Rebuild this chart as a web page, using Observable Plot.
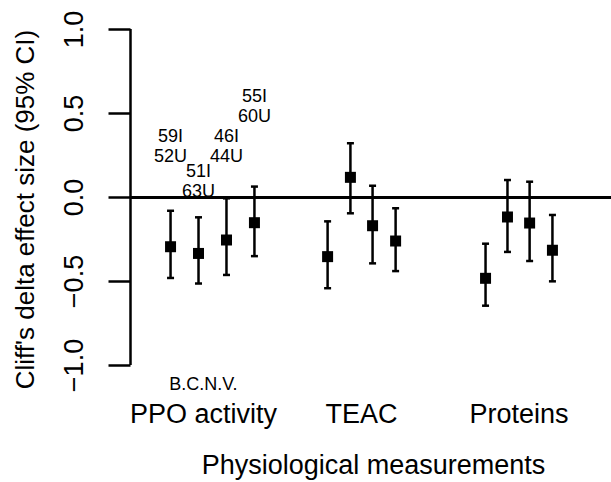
<!DOCTYPE html>
<html>
<head>
<meta charset="utf-8">
<script src="https://cdn.jsdelivr.net/npm/d3@7"></script>
<script src="https://cdn.jsdelivr.net/npm/@observablehq/plot@0.6"></script>
<style>
  html, body { margin: 0; padding: 0; background: #fff; }
  #chart svg { display: block; }
</style>
</head>
<body>
<div id="chart"></div>
<script>
// Positions of the 12 estimates along the x axis (arbitrary units)
const pos = [1.79, 3.04, 4.29, 5.54, 8.81, 9.83, 10.82, 11.85, 15.87, 16.85, 17.84, 18.86];
// Cliff's delta estimates and 95% CI
const est = [-0.293, -0.333, -0.253, -0.150, -0.352, 0.120, -0.168, -0.259, -0.481, -0.116, -0.152, -0.314];
const lo  = [-0.479, -0.512, -0.461, -0.349, -0.540, -0.094, -0.392, -0.438, -0.644, -0.324, -0.378, -0.499];
const hi  = [-0.079, -0.118, -0.005, 0.065, -0.142, 0.323, 0.070, -0.064, -0.275, 0.104, 0.094, -0.104];

// Sample size annotations above PPO activity
const annPos = [1.79, 3.04, 4.29, 5.54];
const annY = [0.307, 0.098, 0.307, 0.548];
const annText = ["59I\n52U", "51I\n63U", "46I\n44U", "55I\n60U"];

// Group labels
const groups = ["PPO activity", "TEAC", "Proteins"];
const groupPos = [3.26, 10.33, 17.37];
const subLabel = "B.C.N.V.";
const subPos = 3.26;

const yTicks = [-1, -0.5, 0, 0.5, 1];
const yTitle = "Cliff's delta effect size (95% CI)";
const xTitle = "Physiological measurements";
const xTitlePos = 10.86;

const data = pos.map((x, i) => ({x, est: est[i], lo: lo[i], hi: hi[i]}));
const ann = annPos.map((x, i) => ({x, y: annY[i], text: annText[i]}));
const grp = groups.map((g, i) => ({x: groupPos[i], text: g}));

const fmt = d3.format(".1f");
const font = "'Liberation Sans', Arial, Helvetica, sans-serif";

const capSymbol = {draw(ctx) { ctx.moveTo(-3.5, 0); ctx.lineTo(3.5, 0); }};
const squareSymbol = {draw(ctx) { ctx.rect(-5.5, -5.5, 11, 11); }};
const tickSymbol = {draw(ctx) { ctx.moveTo(-22, 0); ctx.lineTo(0, 0); }};

const chart = Plot.plot({
  width: 611,
  height: 482,
  marginLeft: 130,
  marginRight: 0,
  marginTop: 29,
  marginBottom: 117,
  style: {fontFamily: font, background: "#fff", color: "#000", overflow: "visible"},
  x: {domain: [0, 21.5], axis: null},
  y: {domain: [-1, 1], axis: null},
  marks: [
    // y axis line
    Plot.ruleX([0], {y1: -1, y2: 1, stroke: "#000", strokeWidth: 2.5}),
    // y ticks
    Plot.dot(yTicks, {x: () => 0, y: d => d, symbol: tickSymbol, stroke: "#000", fill: "none", strokeWidth: 2.5}),
    // y tick labels
    Plot.text(yTicks, {x: () => 0, y: d => d, text: d => fmt(d), rotate: -90, dx: -56, fontSize: 27, fill: "#000"}),
    // y title
    Plot.text([yTitle], {x: () => 0, y: () => 0, text: d => d, rotate: -90, dx: -105, dy: 12, fontSize: 26, fill: "#000"}),
    // zero line
    Plot.ruleY([0], {stroke: "#000", strokeWidth: 3}),
    // error bars
    Plot.ruleX(data, {x: "x", y1: "lo", y2: "hi", stroke: "#000", strokeWidth: 2.5}),
    Plot.dot(data, {x: "x", y: "lo", symbol: capSymbol, stroke: "#000", fill: "none", strokeWidth: 2.5}),
    Plot.dot(data, {x: "x", y: "hi", symbol: capSymbol, stroke: "#000", fill: "none", strokeWidth: 2.5}),
    // estimates
    Plot.dot(data, {x: "x", y: "est", symbol: squareSymbol, fill: "#000", stroke: "none"}),
    // annotations
    Plot.text(ann, {x: "x", y: "y", text: "text", fontSize: 18, lineHeight: 1.1, fill: "#000"}),
    // group labels
    Plot.text(grp, {x: "x", y: () => -1, text: "text", dy: 49, fontSize: 27, fill: "#000"}),
    Plot.text([subLabel], {x: () => subPos, y: () => -1, text: d => d, dy: 19, fontSize: 18, fill: "#000"}),
    // x title
    Plot.text([xTitle], {x: () => xTitlePos, y: () => -1, text: d => d, dy: 100, fontSize: 27, fill: "#000"})
  ]
});
document.getElementById("chart").appendChild(chart);
</script>
</body>
</html>
